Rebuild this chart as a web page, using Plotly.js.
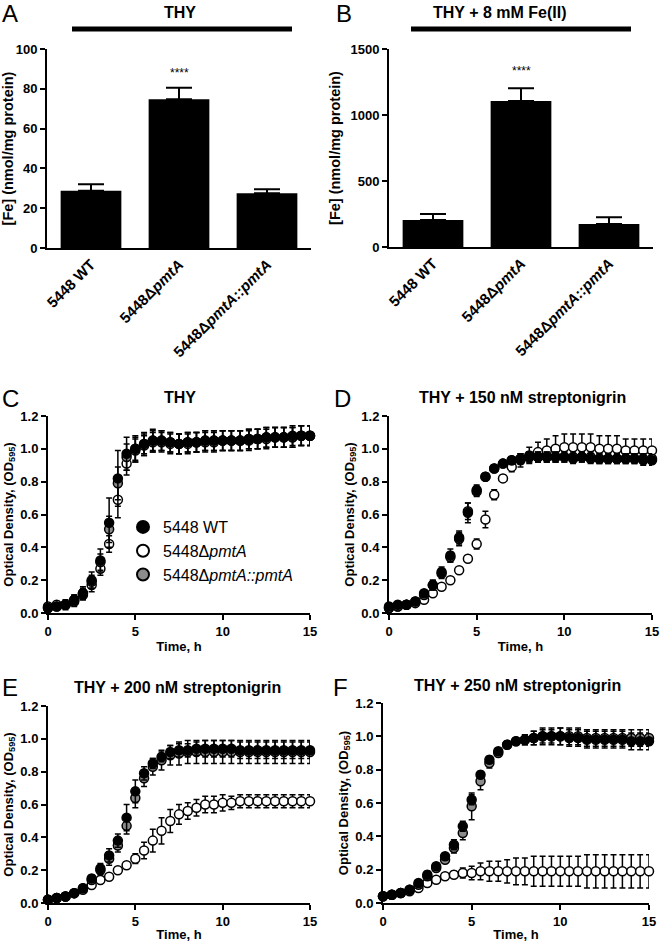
<!DOCTYPE html>
<html>
<head>
<meta charset="utf-8">
<script src="https://cdn.plot.ly/plotly-3.0.1.min.js"></script>
<style>html,body{margin:0;padding:0;background:#fff;}#chart{width:660px;height:942px;}</style>
</head>
<body>
<div id="chart"></div>
<script>
// ---------- DATA ----------
const barCategories = ["5448 WT", "5448Δ<i>pmtA</i>", "5448Δ<i>pmtA::pmtA</i>"];
const feTHY = [28.8, 74.7, 27.5];
const feTHYerr = [3.2, 5.8, 2.0];
const feFe = [204, 1106, 174];
const feFeErr = [46, 96, 51];
const sigLabel = "****";

const seriesNames = ["5448 WT", "5448Δ<i>pmtA</i>", "5448Δ<i>pmtA::pmtA</i>"];
const timeH = [0,0.5,1,1.5,2,2.5,3,3.5,4,4.5,5,5.5,6,6.5,7,7.5,8,8.5,9,9.5,10,10.5,11,11.5,12,12.5,13,13.5,14,14.5,15];

// Panel C: THY
const c_wt   = [0.03,0.04,0.05,0.08,0.12,0.20,0.32,0.55,0.82,0.97,1.00,1.03,1.05,1.05,1.04,1.03,1.04,1.04,1.05,1.05,1.05,1.05,1.05,1.06,1.06,1.07,1.07,1.07,1.08,1.08,1.08];
const c_wtE  = [0.02,0.02,0.03,0.03,0.04,0.05,0.07,0.15,0.17,0.10,0.08,0.07,0.07,0.06,0.06,0.06,0.06,0.06,0.06,0.06,0.06,0.06,0.06,0.06,0.06,0.06,0.06,0.06,0.06,0.06,0.06];
const c_ko   = [0.04,0.05,0.05,0.07,0.11,0.17,0.27,0.42,0.69,0.91,0.99,1.02,1.04,1.04,1.03,1.03,1.03,1.04,1.04,1.04,1.05,1.05,1.05,1.05,1.06,1.06,1.07,1.07,1.07,1.08,1.08];
const c_koE  = [0.02,0.02,0.02,0.03,0.03,0.04,0.04,0.05,0.11,0.07,0.07,0.06,0.06,0.06,0.06,0.06,0.06,0.06,0.06,0.06,0.06,0.06,0.06,0.06,0.06,0.06,0.06,0.06,0.06,0.06,0.06];
const c_cp   = [0.03,0.04,0.05,0.08,0.12,0.19,0.31,0.51,0.79,0.95,1.00,1.03,1.05,1.05,1.04,1.03,1.04,1.04,1.05,1.05,1.05,1.05,1.05,1.06,1.06,1.07,1.07,1.07,1.07,1.08,1.08];
const c_cpE  = [0.02,0.02,0.02,0.03,0.03,0.04,0.05,0.08,0.10,0.08,0.07,0.06,0.06,0.06,0.06,0.06,0.06,0.06,0.06,0.06,0.06,0.06,0.06,0.06,0.06,0.06,0.06,0.06,0.06,0.06,0.06];

// Panel D: THY + 150 nM streptonigrin
const d_wt   = [0.04,0.05,0.05,0.07,0.12,0.17,0.25,0.35,0.46,0.61,0.75,0.83,0.88,0.91,0.93,0.94,0.95,0.95,0.95,0.95,0.95,0.94,0.95,0.94,0.94,0.94,0.94,0.94,0.94,0.93,0.93];
const d_wtE  = [0.02,0.02,0.02,0.02,0.02,0.03,0.03,0.04,0.04,0.06,0.03,0.02,0.02,0.02,0.02,0.03,0.03,0.03,0.03,0.03,0.03,0.03,0.03,0.03,0.03,0.03,0.03,0.03,0.03,0.03,0.03];
const d_ko   = [0.03,0.04,0.05,0.06,0.08,0.12,0.16,0.20,0.26,0.33,0.42,0.57,0.72,0.82,0.89,0.93,0.96,0.98,0.99,1.00,1.01,1.01,1.01,1.01,1.00,1.00,1.00,0.99,0.99,0.99,0.99];
const d_koE  = [0.01,0.01,0.01,0.01,0.01,0.01,0.01,0.01,0.01,0.02,0.03,0.05,0.03,0.02,0.03,0.04,0.05,0.06,0.07,0.08,0.08,0.08,0.08,0.08,0.08,0.08,0.08,0.07,0.07,0.07,0.07];
const d_cp   = [0.03,0.04,0.05,0.07,0.11,0.17,0.24,0.34,0.45,0.62,0.74,0.83,0.88,0.91,0.93,0.94,0.95,0.95,0.95,0.95,0.95,0.95,0.95,0.95,0.94,0.94,0.94,0.94,0.94,0.94,0.94];
const d_cpE  = [0.02,0.02,0.02,0.02,0.02,0.03,0.03,0.03,0.04,0.05,0.03,0.02,0.02,0.02,0.02,0.03,0.03,0.03,0.03,0.03,0.03,0.03,0.03,0.03,0.03,0.03,0.03,0.03,0.03,0.03,0.03];

// Panel E: THY + 200 nM streptonigrin
const e_wt   = [0.02,0.03,0.04,0.06,0.09,0.15,0.21,0.29,0.38,0.52,0.68,0.79,0.85,0.89,0.92,0.93,0.93,0.94,0.94,0.94,0.94,0.94,0.93,0.93,0.93,0.93,0.93,0.93,0.93,0.93,0.93];
const e_wtE  = [0.01,0.01,0.01,0.01,0.02,0.02,0.03,0.04,0.04,0.08,0.07,0.04,0.03,0.03,0.04,0.04,0.04,0.04,0.05,0.05,0.05,0.05,0.05,0.05,0.05,0.05,0.05,0.05,0.05,0.05,0.05];
const e_ko   = [0.02,0.03,0.04,0.06,0.08,0.11,0.14,0.16,0.20,0.23,0.27,0.32,0.38,0.44,0.50,0.54,0.56,0.58,0.60,0.60,0.61,0.61,0.62,0.62,0.62,0.62,0.62,0.62,0.62,0.62,0.62];
const e_koE  = [0.01,0.01,0.01,0.01,0.01,0.01,0.01,0.01,0.01,0.02,0.03,0.05,0.07,0.08,0.07,0.06,0.05,0.05,0.05,0.05,0.05,0.04,0.04,0.04,0.04,0.04,0.04,0.04,0.04,0.04,0.04];
const e_cp   = [0.02,0.03,0.04,0.06,0.09,0.14,0.20,0.27,0.35,0.47,0.64,0.76,0.83,0.87,0.90,0.91,0.92,0.92,0.92,0.92,0.92,0.92,0.92,0.92,0.92,0.92,0.92,0.92,0.92,0.92,0.92];
const e_cpE  = [0.01,0.01,0.01,0.01,0.02,0.02,0.03,0.04,0.04,0.05,0.06,0.05,0.05,0.06,0.06,0.07,0.07,0.07,0.07,0.07,0.07,0.07,0.07,0.07,0.07,0.07,0.07,0.07,0.07,0.07,0.07];

// Panel F: THY + 250 nM streptonigrin
const f_wt   = [0.04,0.05,0.06,0.08,0.12,0.17,0.22,0.28,0.35,0.46,0.62,0.77,0.86,0.91,0.95,0.97,0.98,0.99,1.00,1.00,1.00,0.99,0.99,0.98,0.98,0.98,0.98,0.98,0.97,0.97,0.97];
const f_wtE  = [0.01,0.01,0.01,0.01,0.02,0.02,0.02,0.02,0.03,0.03,0.03,0.02,0.02,0.02,0.02,0.02,0.03,0.04,0.04,0.04,0.05,0.05,0.05,0.05,0.05,0.05,0.05,0.05,0.05,0.05,0.05];
const f_ko   = [0.04,0.05,0.06,0.07,0.09,0.12,0.14,0.16,0.17,0.18,0.18,0.19,0.19,0.19,0.19,0.19,0.19,0.19,0.19,0.19,0.19,0.19,0.19,0.19,0.19,0.19,0.19,0.19,0.19,0.19,0.19];
const f_koE  = [0.01,0.01,0.01,0.01,0.01,0.01,0.01,0.01,0.02,0.03,0.04,0.05,0.06,0.06,0.07,0.08,0.08,0.09,0.09,0.09,0.09,0.09,0.09,0.10,0.10,0.10,0.10,0.10,0.10,0.10,0.10];
const f_cp   = [0.04,0.05,0.06,0.08,0.11,0.16,0.21,0.26,0.33,0.42,0.58,0.73,0.84,0.90,0.95,0.97,0.98,0.99,1.00,1.00,1.00,1.00,1.00,0.99,0.99,0.99,0.99,0.99,0.99,0.99,0.99];
const f_cpE  = [0.01,0.01,0.01,0.01,0.02,0.02,0.02,0.02,0.03,0.04,0.08,0.05,0.03,0.02,0.02,0.02,0.03,0.04,0.05,0.05,0.05,0.05,0.05,0.05,0.05,0.05,0.05,0.05,0.05,0.05,0.05];

const panelLabels = ["A","B","C","D","E","F"];
const panelTitles = ["THY","THY + 8 mM Fe(II)","THY","THY + 150 nM streptonigrin","THY + 200 nM streptonigrin","THY + 250 nM streptonigrin"];
const barYTitle = "[Fe] (nmol/mg protein)";
const odYTitle = "Optical Density, (OD<sub>595</sub>)";
const timeXTitle = "Time, h";

// ---------- LAYOUT HELPERS ----------
const W = 660, H = 942;
const FONT = "Liberation Sans, Arial, Helvetica, sans-serif";
const px = v => v / W;
const py = v => 1 - v / H;

function axisBase() {
  return {
    showgrid: false, zeroline: false, showline: true, linecolor: "#000", linewidth: 2,
    ticks: "outside", ticklen: 5, tickwidth: 2, tickcolor: "#000",
    tickfont: {family: FONT, size: 13, color: "#000", weight: "bold"},
    fixedrange: true
  };
}

const boxes = {
  A: {x: [47, 311], y: [49, 248]},
  B: {x: [389, 653], y: [49, 247]},
  C: {x: [48, 310], y: [416, 613]},
  D: {x: [389, 652], y: [416, 613]},
  E: {x: [48, 310], y: [706, 903]},
  F: {x: [383, 649], y: [703, 903]}
};
function dom(b) { return {x: [px(b.x[0]), px(b.x[1])], y: [py(b.y[1]), py(b.y[0])]}; }

const layout = {
  width: W, height: H, margin: {l: 0, r: 0, t: 0, b: 0},
  paper_bgcolor: "#fff", plot_bgcolor: "#fff",
  font: {family: FONT, color: "#000"},
  showlegend: true,
  legend: {x: px(123), y: py(510), xanchor: "left", yanchor: "top", bgcolor: "rgba(0,0,0,0)",
           font: {family: FONT, size: 16, color: "#000"}, tracegroupgap: 0, itemsizing: "constant"},
  annotations: [], shapes: []
};

const keys = ["A","B","C","D","E","F"];
keys.forEach((k, i) => {
  const n = i === 0 ? "" : String(i + 1);
  const d = dom(boxes[k]);
  const xa = axisBase(), ya = axisBase();
  xa.domain = d.x; ya.domain = d.y;
  xa.anchor = "y" + n; ya.anchor = "x" + n;
  if (i < 2) {
    xa.type = "category"; xa.range = [-0.5, 2.5]; xa.tickangle = -45; xa.ticks = "";
    xa.tickfont = {family: FONT, size: 15, color: "#000", weight: "bold"};
    ya.range = i === 0 ? [0, 100] : [0, 1500];
    ya.tickvals = i === 0 ? [0,20,40,60,80,100] : [0,500,1000,1500];
    ya.title = {text: barYTitle, font: {family: FONT, size: 14.5, weight: "bold", color: "#000"}, standoff: 6};
  } else {
    xa.range = [0, 15]; xa.tickvals = [0,5,10,15];
    xa.title = {text: timeXTitle, font: {family: FONT, size: 13, weight: "bold", color: "#000"}, standoff: 4};
    ya.range = [0, 1.2]; ya.tickvals = [0,0.2,0.4,0.6,0.8,1.0,1.2]; ya.tickformat = ".1f";
    ya.title = {text: odYTitle, font: {family: FONT, size: 13, weight: "bold", color: "#000"}, standoff: 4};
  }
  layout["xaxis" + n] = xa; layout["yaxis" + n] = ya;
});

// panel letters and titles
const letterPos = [[10,14],[344,14],[10,398],[342,398],[10,687],[340,687]];
const titlePos = [[180,13],[500,13],[180,397],[522,397],[177,687],[517,685]];
panelLabels.forEach((t, i) => {
  layout.annotations.push({text: t, xref: "paper", yref: "paper", x: px(letterPos[i][0]), y: py(letterPos[i][1]),
    xanchor: "center", yanchor: "middle", showarrow: false, font: {family: FONT, size: 24, color: "#000"}});
  layout.annotations.push({text: panelTitles[i], xref: "paper", yref: "paper", x: px(titlePos[i][0]), y: py(titlePos[i][1]),
    xanchor: "center", yanchor: "middle", showarrow: false, font: {family: FONT, size: 16, weight: "bold", color: "#000"}});
});
// significance stars
layout.annotations.push({text: sigLabel, xref: "x", yref: "y", x: barCategories[1], y: 88, showarrow: false,
  font: {family: FONT, size: 12, color: "#000"}});
layout.annotations.push({text: sigLabel, xref: "x2", yref: "y2", x: barCategories[1], y: 1330, showarrow: false,
  font: {family: FONT, size: 12, color: "#000"}});
// black bars above bar panels
[[72, 292], [411, 631]].forEach(s => {
  layout.shapes.push({type: "line", xref: "paper", yref: "paper", x0: px(s[0]), x1: px(s[1]), y0: py(29), y1: py(29),
    line: {color: "#000", width: 5}});
});

// ---------- TRACES ----------
const traces = [];
function barTrace(vals, errs, n) {
  return {type: "bar", x: barCategories, y: vals, xaxis: "x" + n, yaxis: "y" + n, width: 0.69,
    marker: {color: "#000"}, showlegend: false,
    error_y: {type: "data", array: errs, arrayminus: errs.map(() => 0), visible: true, color: "#000", thickness: 2, width: 13}};
}
traces.push(barTrace(feTHY, feTHYerr, ""));
traces.push(barTrace(feFe, feFeErr, "2"));

const styles = [
  {fill: "#000000"},
  {fill: "#ffffff"},
  {fill: "#8c8c8c"}
];
function odTrace(y, e, s, n, name, legend) {
  return {type: "scatter", mode: "markers", x: timeH, y: y, xaxis: "x" + n, yaxis: "y" + n, name: name,
    showlegend: legend, cliponaxis: false,
    marker: {symbol: "circle", size: 9, color: styles[s].fill, line: {color: "#000", width: 1.5}},
    error_y: {type: "data", array: e, visible: true, color: "#000", thickness: 1.5, width: 3}};
}
const odPanels = [
  {n: "3", d: [[c_wt,c_wtE],[c_ko,c_koE],[c_cp,c_cpE]]},
  {n: "4", d: [[d_wt,d_wtE],[d_ko,d_koE],[d_cp,d_cpE]]},
  {n: "5", d: [[e_wt,e_wtE],[e_ko,e_koE],[e_cp,e_cpE]]},
  {n: "6", d: [[f_wt,f_wtE],[f_ko,f_koE],[f_cp,f_cpE]]}
];
odPanels.forEach((p, pi) => {
  [1, 2, 0].forEach(s => {
    traces.push(odTrace(p.d[s][0], p.d[s][1], s, p.n, seriesNames[s], false));
  });
});
// legend entries (panel C), in legend order
[0, 1, 2].forEach(s => {
  traces.push({type: "scatter", mode: "markers", x: [null], y: [null], xaxis: "x3", yaxis: "y3",
    name: seriesNames[s], showlegend: true,
    marker: {symbol: "circle", size: 11, color: styles[s].fill, line: {color: "#000", width: 1.5}}});
});

Plotly.newPlot("chart", traces, layout, {staticPlot: true, displayModeBar: false});
</script>
</body>
</html>
